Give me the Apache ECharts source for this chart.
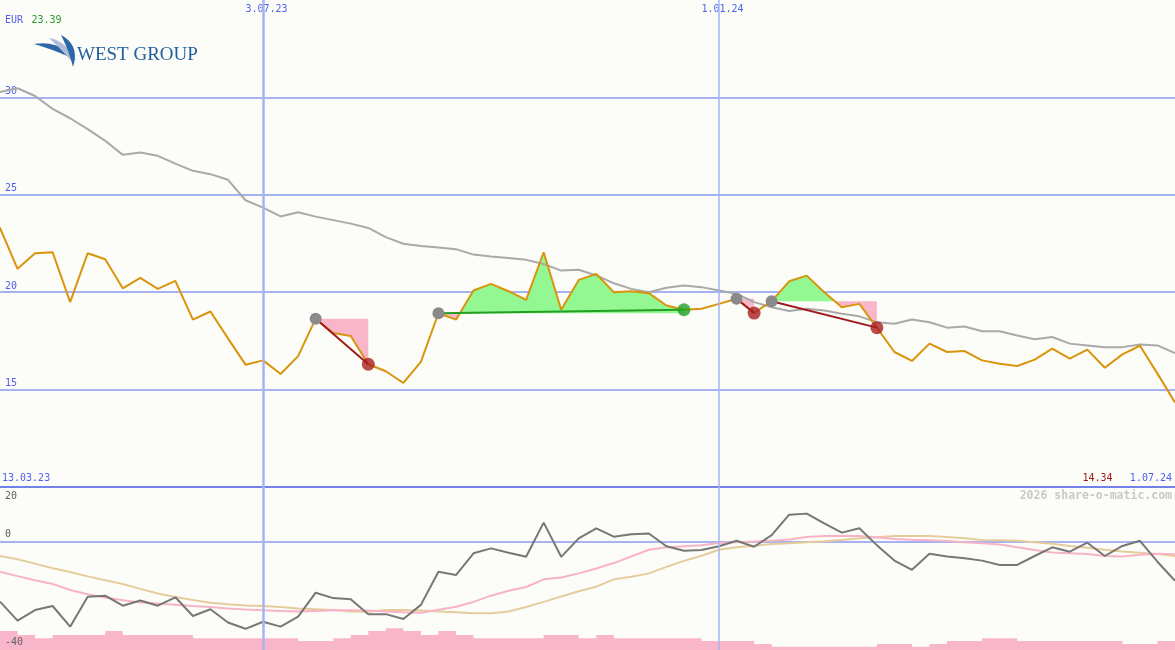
<!DOCTYPE html>
<html><head><meta charset="utf-8">
<script src="https://cdn.jsdelivr.net/npm/echarts@6/dist/echarts.min.js"></script>
<style>html,body{margin:0;padding:0;background:#fcfdf9}#c{width:1175px;height:650px}</style>
</head><body><div id="c"></div><script>
// weekly dates (category axis)
const dates = ['13.03.23','20.03.23','27.03.23','3.04.23','10.04.23','17.04.23','24.04.23','1.05.23','8.05.23','15.05.23','22.05.23','29.05.23','5.06.23','12.06.23','19.06.23','26.06.23','3.07.23','10.07.23','17.07.23','24.07.23','31.07.23','7.08.23','14.08.23','21.08.23','28.08.23','4.09.23','11.09.23','18.09.23','25.09.23','2.10.23','9.10.23','16.10.23','23.10.23','30.10.23','6.11.23','13.11.23','20.11.23','27.11.23','4.12.23','11.12.23','18.12.23','25.12.23','1.01.24','8.01.24','15.01.24','22.01.24','29.01.24','5.02.24','12.02.24','19.02.24','26.02.24','4.03.24','11.03.24','18.03.24','25.03.24','1.04.24','8.04.24','15.04.24','22.04.24','29.04.24','6.05.24','13.05.24','20.05.24','27.05.24','3.06.24','10.06.24','17.06.24','24.06.24','1.07.24'];
// closing price (EUR)
const price = [23.39,23.3,21.2,22.0,22.05,19.49,22.0,21.69,20.2,20.74,20.17,20.58,18.59,19.01,17.63,16.28,16.5,15.8,16.72,18.64,17.9,17.75,16.3,15.94,15.34,16.42,18.92,18.59,20.09,20.43,20.05,19.61,22.05,19.1,20.63,20.94,20.0,20.05,19.95,19.32,19.1,19.15,19.4,19.66,18.93,19.54,20.56,20.85,20.0,19.23,19.4,18.18,16.93,16.47,17.36,16.93,16.98,16.5,16.33,16.21,16.54,17.1,16.59,17.05,16.12,16.81,17.25,15.82,14.34];
// moving average (grey)
const average = [null,30.28,30.47,30.07,29.41,28.93,28.37,27.77,27.05,27.17,27.0,26.6,26.23,26.06,25.77,24.72,24.34,23.89,24.1,23.88,23.7,23.52,23.3,22.83,22.49,22.37,22.3,22.21,21.93,21.83,21.76,21.66,21.45,21.11,21.15,20.86,20.46,20.17,20.0,20.23,20.34,20.26,20.09,19.92,19.49,19.23,19.03,19.15,19.06,18.89,18.76,18.46,18.38,18.6,18.46,18.18,18.24,18.0,18.0,17.78,17.58,17.7,17.36,17.27,17.18,17.18,17.32,17.27,16.88];
// oscillator panel
const momentum = [null,-22.2,-29.2,-25.3,-23.8,-31.4,-20.4,-20.0,-23.7,-21.8,-23.7,-20.6,-27.5,-25.0,-29.9,-32.2,-29.6,-31.4,-27.7,-18.9,-20.9,-21.3,-26.8,-26.8,-28.6,-23.4,-11.2,-12.4,-4.4,-2.6,-4.2,-5.7,6.9,-5.7,1.1,4.8,1.7,2.6,2.9,-1.8,-3.5,-3.2,-1.8,0.2,-2.0,2.3,9.8,10.2,6.6,3.2,4.8,-1.4,-7.1,-10.5,-4.6,-5.6,-6.2,-7.1,-8.7,-8.7,-5.4,-2.2,-3.8,-0.5,-5.4,-1.7,0.2,-7.5,-14.5];
const signalPink = [null,-11.2,-12.8,-14.3,-15.7,-17.9,-19.5,-20.7,-21.7,-22.5,-22.9,-23.3,-23.8,-24.2,-24.7,-25.1,-25.4,-25.6,-25.8,-25.6,-25.4,-25.4,-25.5,-25.8,-26.1,-26.3,-25.2,-24.1,-22.3,-20.0,-18.2,-16.8,-14.0,-13.3,-11.8,-10.0,-8.0,-5.6,-3.1,-2.2,-1.8,-1.4,-0.6,-0.3,-0.1,0.2,0.7,1.6,2.0,2.0,2.0,1.5,0.9,0.6,0.4,0.1,-0.3,-0.7,-1.2,-2.2,-3.2,-4.1,-4.4,-4.7,-5.4,-5.6,-4.9,-4.6,-4.8];
const signalTan = [null,-5.4,-6.6,-8.2,-9.9,-11.3,-12.9,-14.3,-15.7,-17.5,-19.2,-20.5,-21.6,-22.6,-23.2,-23.6,-23.8,-24.2,-24.7,-25.0,-25.3,-25.8,-25.9,-25.3,-25.3,-25.5,-25.8,-26.1,-26.5,-26.5,-25.8,-24.2,-22.3,-20.3,-18.4,-16.7,-14.0,-13.0,-11.8,-9.4,-7.2,-5.3,-3.1,-2.2,-1.6,-1.0,-0.7,-0.3,0.0,0.5,1.1,1.5,2.0,2.0,2.0,1.6,1.1,0.5,0.4,0.2,-0.3,-0.9,-1.7,-2.4,-3.1,-3.7,-4.2,-4.7,-5.4];
const volume = [null,7,5.5,4.3,5.5,5.5,5.5,7,5.5,5.5,5.5,5.5,4.3,4.3,4.3,4.3,4.3,4.3,3.3,3.3,4.3,5.5,7,8,7,5.5,7,5.5,4.3,4.3,4.3,4.3,5.5,5.5,4.3,5.5,4.3,4.3,4.3,4.3,4.3,3.3,3.3,3.3,2.2,1.2,1.2,1.2,1.2,1.2,1.2,2.2,2.2,1.2,2.2,3.3,3.3,4.3,4.3,3.3,3.3,3.3,3.3,3.3,3.3,2.2,2.2,3.3,3.3];
// ticks / labels
const priceTicks = [15,20,25,30];
const oscTicks = [20,0,-40];
const markDates = ['3.07.23','1.01.24'];
const currency = 'EUR';
const copyright = '2026 share-o-matic.com';
const logoText = 'WEST GROUP';
// signals: start index, end index, type
const signalStarts = [19,26,43,45];
const signalEnds = [22,40,44,51];
const signalKinds = ['sell','buy','sell','sell'];

const BLUE_TXT = '#4f5ff0', GRID = '#a6b3f1', SEP = '#7282ea';
const MONO = '"DejaVu Sans Mono", monospace';
const GREEN_FILL = '#93f891', PINK_FILL = '#f9b5c9';

function renderFill(params, api) {
  const s = api.value(0), e = api.value(1);
  const L = price[s];
  const yL = api.coord([s, L])[1];
  const pts = [];
  for (let k = s; k <= e; k++) {
    const c = api.coord([k, price[k]]);
    if (k > s) {
      const a = price[k-1] - L, b = price[k] - L;
      if (a * b < 0) {
        const p = pts[pts.length-1];
        const t = a / (a - b);
        pts.push([p[0] + (c[0]-p[0]) * t, yL, 0]);
      }
    }
    pts.push([c[0], c[1], price[k] - L]);
  }
  const children = [];
  let run = null, runSign = 0;
  const flush = () => {
    if (!run) return;
    run.push([run[run.length-1][0], yL]);
    children.push({type:'polygon', silent:true, shape:{points:run}, style:{fill: runSign > 0 ? GREEN_FILL : PINK_FILL}});
    run = null;
  };
  for (let j = 1; j < pts.length; j++) {
    const d = pts[j-1][2] + pts[j][2];
    const sg = d > 0 ? 1 : (d < 0 ? -1 : 0);
    if (sg === 0) continue;
    if (run && sg !== runSign) flush();
    if (!run) { run = [[pts[j-1][0], yL], [pts[j-1][0], pts[j-1][1]]]; runSign = sg; }
    run.push([pts[j][0], pts[j][1]]);
  }
  flush();
  return {type:'group', children};
}

// logo swoosh: crescent made of two quadratic curves (decoration only)
function crescent(x0, y0, x1, y1, cox, coy, cix, ciy) {
  const pts = [];
  const q = (a, c, b, t) => (1-t)*(1-t)*a + 2*(1-t)*t*c + t*t*b;
  for (let i = 0; i <= 16; i++) { const t = i/16; pts.push([q(x0,cox,x1,t), q(y0,coy,y1,t)]); }
  for (let i = 16; i >= 0; i--) { const t = i/16; pts.push([q(x0,cix,x1,t), q(y0,ciy,y1,t)]); }
  return pts;
}

const vLines = markDates.map((d, i) => ({xAxis: d, lineStyle: {color: GRID, width: i === 0 ? 2.5 : 1.5, type: 'solid'}}));
const markLineCfg = {silent:true, symbol:['none','none'], label:{show:false}, animation:false, data: vLines};

const series = [];
series.push({type:'custom', xAxisIndex:0, yAxisIndex:0, z:1, silent:true,
  data: signalStarts.map((s, i) => [s, signalEnds[i]]), renderItem: renderFill});
series.push({type:'line', xAxisIndex:0, yAxisIndex:0, z:2, data: average, symbol:'none', silent:true,
  lineStyle:{color:'#a9a9a9', width:2}, markLine: markLineCfg});
series.push({type:'line', xAxisIndex:0, yAxisIndex:0, z:3, data: price, symbol:'none', silent:true,
  lineStyle:{color:'#d9940c', width:2}});
signalStarts.forEach((s, i) => {
  const e = signalEnds[i];
  series.push({type:'line', xAxisIndex:0, yAxisIndex:0, z:4, symbol:'none', silent:true,
    data: [[s, price[s]], [e, price[e]]],
    lineStyle:{color: signalKinds[i] === 'buy' ? '#22a022' : '#a11a1a', width:2}});
});
series.push({type:'scatter', xAxisIndex:0, yAxisIndex:0, z:5, silent:true, symbolSize:12,
  data: signalStarts.map(s => [s, price[s]]), itemStyle:{color:'#8a8a8a', opacity:1}});
series.push({type:'scatter', xAxisIndex:0, yAxisIndex:0, z:5, silent:true, symbolSize:13,
  data: signalEnds.map((e, i) => ({value:[e, price[e]], itemStyle:{color: signalKinds[i] === 'buy' ? '#22a022' : '#a71f1f'}}))});
// bottom panel
series.push({type:'line', xAxisIndex:1, yAxisIndex:2, z:1, data: volume, step:'end', symbol:'none', silent:true,
  lineStyle:{width:0, opacity:0}, areaStyle:{color:'#f9b6ca', opacity:1}, markLine: markLineCfg});
series.push({type:'line', xAxisIndex:1, yAxisIndex:1, z:2, data: signalTan, symbol:'none', silent:true,
  lineStyle:{color:'#e5cd9b', width:2}});
series.push({type:'line', xAxisIndex:1, yAxisIndex:1, z:2, data: signalPink, symbol:'none', silent:true,
  lineStyle:{color:'#f8b4c6', width:2}});
series.push({type:'line', xAxisIndex:1, yAxisIndex:1, z:3, data: momentum, symbol:'none', silent:true,
  lineStyle:{color:'#777777', width:2}});

const T = 'rgba(0,0,0,0)';
const oscLabel = {inside:true, margin:5, showMinLabel:true, showMaxLabel:true,
  formatter: v => !oscTicks.includes(v) ? '' : (v === 20 ? '{d|' + v + '}' : (v === 0 ? '{u|' + v + '}' : '{b|' + v + '}')),
  rich:{
    u:{color:'#606060', fontFamily:MONO, fontSize:10, padding:[0,0,14,0]},
    b:{color:'#606060', fontFamily:MONO, fontSize:10, padding:[0,0,16,0]},
    d:{color:'#606060', fontFamily:MONO, fontSize:10, padding:[18,0,0,0]}}};
const option = {
  animation: false,
  backgroundColor: '#fcfdf9',
  grid: [
    {left:0, right:0, top:0, height:487},
    {left:0, right:0, top:487, height:163}
  ],
  xAxis: [
    {gridIndex:0, type:'category', data:dates, boundaryGap:false, min:1, max:dates.length-1, position:'top',
      axisLine:{show:false}, axisTick:{show:false}, splitLine:{show:false},
      axisLabel:{inside:true, margin:4, padding:[0,0,0,7], interval:(i, v) => markDates.includes(v), color:BLUE_TXT, fontFamily:MONO, fontSize:10}},
    {gridIndex:1, type:'category', data:dates, boundaryGap:false, min:1, max:dates.length-1,
      axisLine:{show:false}, axisTick:{show:false}, splitLine:{show:false}, axisLabel:{show:false}}
  ],
  yAxis: [
    {gridIndex:0, type:'value', min:10, max:35, interval:5,
      axisLine:{show:false}, axisTick:{show:false},
      splitLine:{show:true, lineStyle:{color:[SEP, GRID, GRID, GRID, GRID, T], width:2}},
      axisLabel:{inside:true, margin:5, showMinLabel:true, showMaxLabel:true, color:BLUE_TXT,
        formatter: v => priceTicks.includes(v) ? '{u|' + v + '}' : '',
        rich:{u:{color:BLUE_TXT, fontFamily:MONO, fontSize:10, padding:[0,0,12,0]}}}},
    {gridIndex:1, type:'value', min:-40, max:20, interval:20,
      axisLine:{show:false}, axisTick:{show:false}, axisLabel:{show:false},
      splitLine:{show:true, lineStyle:{color:[T, T, GRID, SEP], width:2}}},
    {gridIndex:1, type:'value', min:0, max:60, show:false, splitLine:{show:false}},
    {gridIndex:1, type:'value', min:-40, max:20, interval:20, z:20, position:'left',
      axisLine:{show:false}, axisTick:{show:false}, splitLine:{show:false}, axisLabel: oscLabel}
  ],
  graphic: [
    {type:'text', x:5, y:20, silent:true, style:{text:currency, fill:BLUE_TXT, font:'10px ' + MONO, align:'left', verticalAlign:'middle'}},
    {type:'text', x:31.5, y:20, silent:true, style:{text:price[0].toFixed(2), fill:'#2a9a2a', font:'10px ' + MONO, align:'left', verticalAlign:'middle'}},
    {type:'text', x:2, y:478, silent:true, style:{text:dates[0], fill:BLUE_TXT, font:'10px ' + MONO, align:'left', verticalAlign:'middle'}},
    {type:'text', x:1172, y:478, silent:true, style:{text:dates[dates.length-1], fill:BLUE_TXT, font:'10px ' + MONO, align:'right', verticalAlign:'middle'}},
    {type:'text', x:1112.5, y:478, silent:true, style:{text:price[price.length-1].toFixed(2), fill:'#a01818', font:'10px ' + MONO, align:'right', verticalAlign:'middle'}},
    {type:'text', x:1172, y:496, silent:true, style:{text:copyright, fill:'#c9c9c9', font:'bold 11.5px ' + MONO, align:'right', verticalAlign:'middle'}},
    {type:'polygon', silent:true, shape:{points:crescent(34,44, 76,60, 60,40, 55,50)}, style:{fill:'#2b66a6'}},
    {type:'polygon', silent:true, shape:{points:crescent(49,38, 73,63, 70,42, 62,50)}, style:{fill:'#aebcd8'}},
    {type:'polygon', silent:true, shape:{points:crescent(61,35, 73,67, 80,45, 69,51)}, style:{fill:'#2b66a6'}},
    {type:'text', x:77, y:55, silent:true, style:{text:logoText, fill:'#1f5e9c', font:'19px "Liberation Serif", serif', align:'left', verticalAlign:'middle'}}
  ],
  series
};
const chart = echarts.init(document.getElementById('c'), null, {renderer:'canvas'});
chart.setOption(option);
</script></body></html>
